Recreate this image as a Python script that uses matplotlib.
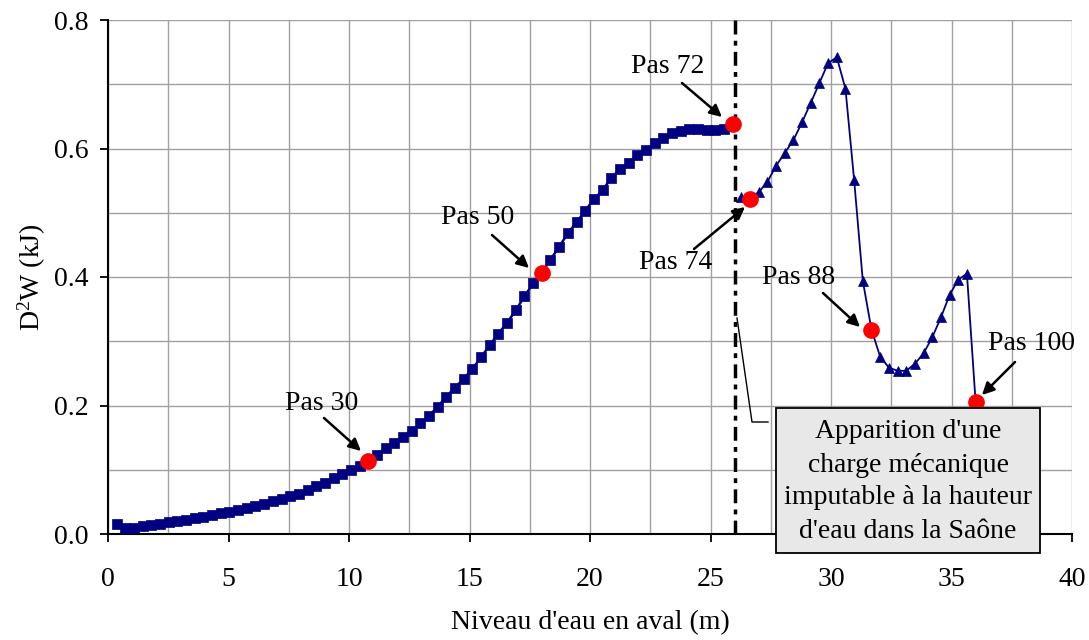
import matplotlib
matplotlib.use("Agg")
import matplotlib.pyplot as plt
from matplotlib.ticker import MultipleLocator, FormatStrFormatter
from matplotlib.patches import Rectangle

plt.rcParams['font.family'] = ['Liberation Serif', 'DejaVu Serif']
plt.rcParams['mathtext.fontset'] = 'custom'
plt.rcParams['mathtext.rm'] = 'Liberation Serif'
plt.rcParams['mathtext.it'] = 'Liberation Serif:italic'

# ---- data ----
x_sq = [0.36, 0.72, 1.08, 1.44, 1.80, 2.16, 2.52, 2.88, 3.24, 3.60, 3.96, 4.32,
        4.68, 5.04, 5.40, 5.76, 6.12, 6.48, 6.84, 7.20, 7.56, 7.92, 8.28, 8.64,
        9.00, 9.36, 9.72, 10.08, 10.44, 10.80, 11.16, 11.52, 11.88, 12.24, 12.60, 12.96,
        13.32, 13.68, 14.04, 14.40, 14.76, 15.12, 15.48, 15.84, 16.20, 16.56, 16.92, 17.28,
        17.64, 18.00, 18.36, 18.72, 19.08, 19.44, 19.80, 20.16, 20.52, 20.88, 21.24, 21.60,
        21.96, 22.32, 22.68, 23.04, 23.40, 23.76, 24.12, 24.48, 24.84, 25.20, 25.56, 25.92]
y_sq = [0.015, 0.009, 0.010, 0.012, 0.014, 0.016, 0.018, 0.020, 0.022, 0.025, 0.027, 0.030,
        0.032, 0.035, 0.038, 0.041, 0.044, 0.047, 0.051, 0.055, 0.059, 0.063, 0.068, 0.074,
        0.080, 0.087, 0.093, 0.100, 0.106, 0.113, 0.123, 0.134, 0.142, 0.151, 0.161, 0.172,
        0.184, 0.198, 0.214, 0.228, 0.242, 0.257, 0.275, 0.294, 0.312, 0.329, 0.348, 0.370,
        0.390, 0.407, 0.427, 0.447, 0.468, 0.485, 0.503, 0.521, 0.535, 0.554, 0.568, 0.578,
        0.590, 0.598, 0.608, 0.617, 0.624, 0.628, 0.630, 0.630, 0.629, 0.629, 0.631, 0.638]

x_tri = [26.28, 26.64, 27.00, 27.36, 27.72, 28.08, 28.44, 28.80, 29.16, 29.52, 29.88, 30.24,
         30.60, 30.96, 31.32, 31.68, 32.04, 32.40, 32.76, 33.12, 33.48, 33.84, 34.20, 34.56,
         34.92, 35.28, 35.64, 36.00]
y_tri = [0.524, 0.522, 0.532, 0.548, 0.573, 0.593, 0.613, 0.641, 0.671, 0.702, 0.733, 0.742,
         0.693, 0.551, 0.394, 0.318, 0.276, 0.259, 0.254, 0.254, 0.265, 0.281, 0.306, 0.337,
         0.372, 0.396, 0.405, 0.206]

red_pas = [30, 50, 72, 74, 88, 100]
red_labels = ["Pas 30", "Pas 50", "Pas 72", "Pas 74", "Pas 88", "Pas 100"]
x_vline = 26.0
box_lines = ["Apparition d'une", "charge mécanique",
             "imputable à la hauteur", "d'eau dans la Saône"]

x_ticks = [0, 5, 10, 15, 20, 25, 30, 35, 40]
y_ticks = [0.0, 0.2, 0.4, 0.6, 0.8]

# ---- figure ----
W, H = 1089, 640
fig = plt.figure(figsize=(W / 100, H / 100), dpi=100)
ax = fig.add_axes([108 / W, 1 - 534 / H, (1072 - 108) / W, (534 - 20) / H])

def px2d(px, py):
    return ((px - 108) / 964 * 40, (534 - py) / 514 * 0.8)

navy = '#000080'
ax.plot(x_sq, y_sq, color=navy, lw=1.8, marker='s', ms=7, mec=navy, mfc=navy,
        mew=0.5, zorder=3, clip_on=False)
ax.plot(x_tri, y_tri, color=navy, lw=1.3, marker='^', ms=7.5, mec=navy, mfc=navy,
        mew=0.5, zorder=3, clip_on=False)

all_x = x_sq + x_tri
all_y = y_sq + y_tri
rx = [all_x[p - 1] for p in red_pas]
ry = [all_y[p - 1] for p in red_pas]
ax.plot(rx, ry, linestyle='none', marker='o', ms=11, mfc='#ff0000', mec='#ff0000',
        zorder=5, clip_on=False)

ax.axvline(x_vline, color='black', lw=2.5, linestyle=(0, (4, 1.8, 1.4, 1.8)), zorder=4)

ax.set_xlim(0, 40)
ax.set_ylim(0, 0.8)
ax.set_xticks(x_ticks)
ax.set_yticks(y_ticks)
ax.yaxis.set_major_formatter(FormatStrFormatter('%.1f'))
ax.xaxis.set_minor_locator(MultipleLocator(2.5))
ax.yaxis.set_minor_locator(MultipleLocator(0.1))
ax.grid(True, which='both', color='#a0a0a0', lw=1.0, zorder=0)
ax.set_axisbelow(True)
ax.tick_params(which='minor', length=0)
ax.tick_params(axis='x', which='major', direction='out', length=6, width=1.3,
               labelsize=20, pad=18)
ax.tick_params(axis='y', which='major', direction='out', length=6, width=1.3,
               labelsize=20, pad=8)
for s in ['top', 'right']:
    ax.spines[s].set_visible(False)
for s in ['left', 'bottom']:
    ax.spines[s].set_linewidth(1.5)
    ax.spines[s].set_color('black')

ax.set_xlabel("Niveau d'eau en aval (m)", fontsize=20)
ax.xaxis.set_label_coords(0.5, -0.148)
ax.set_ylabel(r"D$^{\mathrm{2}}$W (kJ)", fontsize=20)
ax.yaxis.set_label_coords(-0.062, 0.5)

# ---- "Pas" annotations (text centre, arrow tail, arrow head in pixels) ----
ann = [((322, 404), (324, 418), (361, 451)),
       ((478, 218), (492, 235), (529, 268)),
       ((668, 67), (682, 83), (722, 117)),
       ((676, 263), (694, 249), (745, 207)),
       ((799, 277), (823, 293), (860, 327)),
       ((1032, 344), (1015, 362), (982, 395))]
for lab, (tc, tail, head) in zip(red_labels, ann):
    ax.text(*px2d(*tc), lab, fontsize=20, ha='center', va='center', zorder=6)
    ax.annotate('', xy=px2d(*head), xytext=px2d(*tail),
                arrowprops=dict(arrowstyle='-|>', color='black', lw=1.8,
                                mutation_scale=18, shrinkA=0, shrinkB=0),
                zorder=6, annotation_clip=False)

# ---- callout box ----
x0, y1 = px2d(776, 408)
x1, y0 = px2d(1040, 553)
ax.add_patch(Rectangle((x0, y0), x1 - x0, y1 - y0, facecolor='#e8e8e8',
                       edgecolor='black', lw=1.3, zorder=7, clip_on=False))
cx = (x0 + x1) / 2
for i, line in enumerate(box_lines):
    ax.text(cx, px2d(0, 432 + 33 * i)[1], line, fontsize=20, ha='center',
            va='center', zorder=8, clip_on=False)
pts = [px2d(737, 318), px2d(752, 422), px2d(768, 422)]
ax.plot([p[0] for p in pts], [p[1] for p in pts], color='black', lw=1.0,
        zorder=6, clip_on=False)

fig.savefig('out.png', dpi=100)
